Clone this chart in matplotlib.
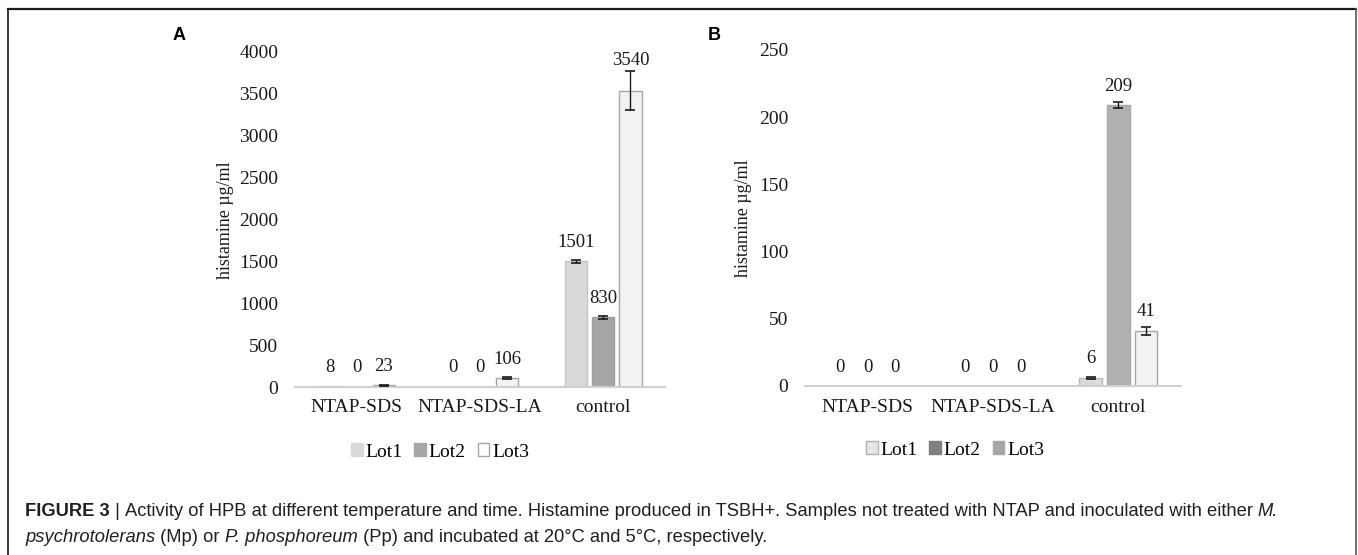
import matplotlib
matplotlib.use('Agg')
import matplotlib.pyplot as plt
from matplotlib.patches import Patch
from matplotlib.lines import Line2D
import numpy as np

# data
categories = ['NTAP-SDS', 'NTAP-SDS-LA', 'control']
lots = ['Lot1', 'Lot2', 'Lot3']

a_lot1 = [8, 0, 1501]
a_lot2 = [0, 0, 830]
a_lot3 = [23, 106, 3540]
a_err1 = [0, 0, 15]
a_err2 = [0, 0, 15]
a_err3 = [6, 12, 235]

b_lot1 = [0, 0, 6]
b_lot2 = [0, 0, 209]
b_lot3 = [0, 0, 41]
b_err1 = [0, 0, 0.6]
b_err2 = [0, 0, 2.5]
b_err3 = [0, 0, 3]

a_ticks = np.arange(0, 4001, 500)
b_ticks = np.arange(0, 251, 50)

SERIF = 'Liberation Serif'
SANS = 'Liberation Sans'

fig = plt.figure(figsize=(13.58, 5.55), dpi=100)
W, H = 1358, 555


def px_box(x0, x1, y_top, y_bot):
    return [x0 / W, 1 - y_bot / H, (x1 - x0) / W, (y_bot - y_top) / H]


def draw_panel(ax, series, errs, bar_styles, ticks, ymax):
    offsets = [-0.22, 0.0, 0.22]
    width = 0.18
    x = np.arange(len(categories))
    px_per_unit = (387 - 52) / ymax
    for vals, err, off, st in zip(series, errs, offsets, bar_styles):
        ax.bar(x + off, vals, width, color=st[0], edgecolor=st[1], linewidth=1.0, zorder=2)
        for xi, v, e in zip(x, vals, err):
            if v > 0 and e > 0:
                ax.errorbar(xi + off, v, yerr=e, fmt='none', ecolor='#1a1a1a',
                            elinewidth=1.0, capsize=3.5, capthick=1.2, zorder=3)
            # label above bar or above error bar
            off_px = max(19, e * px_per_unit + 10)
            ax.annotate(str(v), (xi + off, v), xytext=(0, off_px * 0.72),
                        textcoords='offset points', ha='center', va='center',
                        fontsize=13.5, family=SERIF, color='#1a1a1a')
    ax.set_xlim(-0.5, 2.5)
    ax.set_ylim(0, ymax)
    ax.set_yticks(ticks)
    ax.set_xticks(x)
    ax.set_xticklabels(categories, family=SERIF, fontsize=14, color='#1a1a1a')
    for lbl in ax.get_yticklabels():
        lbl.set_family(SERIF)
        lbl.set_fontsize(14)
        lbl.set_color('#1a1a1a')
    ax.tick_params(axis='y', length=0, pad=12)
    ax.tick_params(axis='x', length=0, pad=9)
    for s in ['top', 'right', 'left']:
        ax.spines[s].set_visible(False)
    ax.spines['bottom'].set_color('#d0d0d0')
    ax.spines['bottom'].set_linewidth(1.5)
    ax.set_facecolor('none')


# panel A
axA = fig.add_axes(px_box(295, 665, 52, 387))
stylesA = [('#d9d9d9', '#c4c4c4'), ('#a6a6a6', '#a0a0a0'), ('#f2f2f2', '#a6a6a6')]
draw_panel(axA, [a_lot1, a_lot2, a_lot3], [a_err1, a_err2, a_err3], stylesA, a_ticks, 4000)

# panel B (bar colours and legend swatches differ in the original)
axB = fig.add_axes(px_box(805, 1181, 50, 386))
stylesB = [('#dadada', '#b8b8b8'), ('#b0b0b0', '#a8a8a8'), ('#f2f2f2', '#a6a6a6')]
draw_panel(axB, [b_lot1, b_lot2, b_lot3], [b_err1, b_err2, b_err3], stylesB, b_ticks, 250)

# y labels
fig.text(225 / W, 1 - 220 / H, 'histamine µg/ml', rotation=90, ha='center', va='center',
         family=SERIF, fontsize=13, color='#1a1a1a')
fig.text(743 / W, 1 - 218 / H, 'histamine µg/ml', rotation=90, ha='center', va='center',
         family=SERIF, fontsize=13, color='#1a1a1a')

# panel letters
fig.text(179 / W, 1 - 35 / H, 'A', ha='center', va='center', family=SANS,
         fontweight='bold', fontsize=13)
fig.text(714 / W, 1 - 35 / H, 'B', ha='center', va='center', family=SANS,
         fontweight='bold', fontsize=13)

# legends
legA = [Patch(facecolor='#d9d9d9', edgecolor='#d9d9d9'),
        Patch(facecolor='#a6a6a6', edgecolor='#a6a6a6'),
        Patch(facecolor='#ffffff', edgecolor='#a6a6a6')]
legB = [Patch(facecolor='#e6e6e6', edgecolor='#b0b0b0'),
        Patch(facecolor='#7f7f7f', edgecolor='#7f7f7f'),
        Patch(facecolor='#a6a6a6', edgecolor='#a6a6a6')]
for handles, cx, cy in [(legA, 440, 452), (legB, 955, 450)]:
    fig.legend(handles, lots, loc='center', bbox_to_anchor=(cx / W, 1 - cy / H), ncol=3,
               frameon=False, handlelength=0.6, handleheight=0.6, handletextpad=0.15,
               columnspacing=0.6, prop={'family': SERIF, 'size': 14})

# outer frame
fig.add_artist(Line2D([8 / W, 1356 / W], [1 - 9 / H, 1 - 9 / H], color='#1a1a1a', lw=1.6))
fig.add_artist(Line2D([8 / W, 8 / W], [1 - 9 / H, 0], color='#1a1a1a', lw=1.2))
fig.add_artist(Line2D([1356 / W, 1356 / W], [1 - 9 / H, 0], color='#555555', lw=1.2))

# caption, written piece by piece so the italic names sit inline
renderer = fig.canvas.get_renderer()
cap_col = '#231f20'
cap_size = 13.2
line1 = [('FIGURE 3', 'bold', 'normal'), (' | ', 'normal', 'normal'),
         ('Activity of HPB at different temperature and time. Histamine produced in TSBH+. '
          'Samples not treated with NTAP and inoculated with either ', 'normal', 'normal'),
         ('M.', 'normal', 'italic')]
line2 = [('psychrotolerans', 'normal', 'italic'), (' (Mp) or ', 'normal', 'normal'),
         ('P. phosphoreum', 'normal', 'italic'),
         (' (Pp) and incubated at 20°C and 5°C, respectively.', 'normal', 'normal')]
for pieces, y in [(line1, 511), (line2, 537)]:
    xpos = 25
    for txt, wt, st in pieces:
        t = fig.text(xpos / W, 1 - y / H, txt, ha='left', va='center', family=SANS,
                     fontsize=cap_size, fontweight=wt, fontstyle=st, color=cap_col)
        bb = t.get_window_extent(renderer)
        xpos += bb.width

fig.savefig('out.png', dpi=100)
